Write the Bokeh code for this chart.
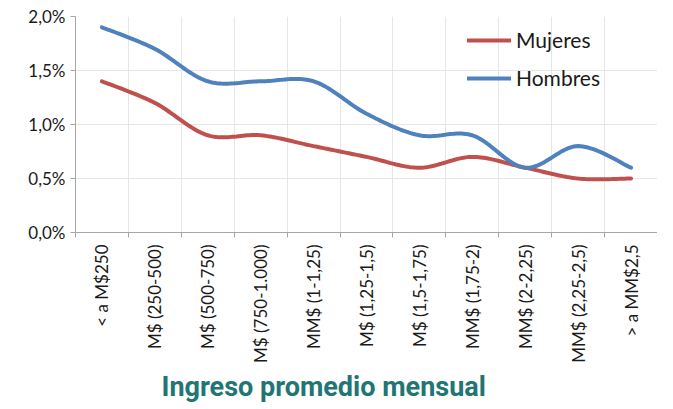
import numpy as np
from bokeh.plotting import figure
from bokeh.models import FixedTicker, Legend, LegendItem, Range1d, Title
from bokeh.embed import file_html
from bokeh.resources import INLINE

categories = ["< a M$250", "M$ (250-500)", "M$ (500-750)", "M$ (750-1.000)",
              "MM$ (1-1,25)", "M$ (1,25-1,5)", "M$ (1,5-1,75)", "MM$ (1,75-2)",
              "MM$ (2-2,25)", "MM$ (2,25-2,5)", "> a MM$2,5"]
mujeres = [1.4, 1.2, 0.9, 0.9, 0.8, 0.7, 0.6, 0.7, 0.6, 0.5, 0.5]
hombres = [1.9, 1.7, 1.4, 1.4, 1.4, 1.1, 0.9, 0.9, 0.6, 0.8, 0.6]
y_ticks = [0.0, 0.5, 1.0, 1.5, 2.0]
y_labels = ["0,0%", "0,5%", "1,0%", "1,5%", "2,0%"]


def smooth(xs, ys, n=24):
    xs = np.asarray(xs, float); ys = np.asarray(ys, float)
    P = np.column_stack([xs, ys])
    out = []
    m = len(P)
    for i in range(m - 1):
        p0 = P[i - 1] if i > 0 else P[i]
        p1 = P[i]; p2 = P[i + 1]
        p3 = P[i + 2] if i + 2 < m else P[i + 1]
        c1 = p1 + (p2 - p0) / 6.0
        c2 = p2 - (p3 - p1) / 6.0
        t = np.linspace(0, 1, n, endpoint=(i == m - 2))[:, None]
        seg = ((1 - t) ** 3) * p1 + 3 * ((1 - t) ** 2) * t * c1 + 3 * (1 - t) * t ** 2 * c2 + t ** 3 * p2
        out.append(seg)
    arr = np.vstack(out)
    return arr[:, 0], arr[:, 1]


ncat = len(categories)
centers = [i + 0.5 for i in range(ncat)]
bounds = list(range(ncat + 1))

p = figure(frame_width=582, frame_height=216, output_backend="svg", toolbar_location=None,
           x_range=Range1d(0, ncat), y_range=Range1d(0, 2.0),
           min_border_left=75, min_border_right=0, min_border_top=16, min_border_bottom=0)
p.outline_line_color = None
p.background_fill_color = "white"

xm, ym = smooth(centers, mujeres)
xh, yh = smooth(centers, hombres)
r_m = p.line(xm, ym, line_color="#C0504D", line_width=4, line_cap="round")
r_h = p.line(xh, yh, line_color="#4F81BD", line_width=4, line_cap="round")

# x axis
p.xaxis.ticker = FixedTicker(ticks=centers, minor_ticks=bounds)
p.xaxis.major_label_overrides = {c: lab for c, lab in zip(centers, categories)}
p.xaxis.major_label_orientation = np.pi / 2
p.xaxis.major_tick_out = 0
p.xaxis.major_tick_in = 0
p.xaxis.minor_tick_out = 5
p.xaxis.minor_tick_in = 0
p.xaxis.minor_tick_line_color = "#a6a6a6"
p.xaxis.axis_line_color = "#a6a6a6"
p.xaxis.major_label_text_font = "Lato"
p.xaxis.major_label_text_font_size = "17px"
p.xaxis.major_label_text_color = "#1a1a1a"
p.xaxis.major_label_standoff = 7

# title below
t = Title(text="Ingreso promedio mensual", align="left", offset=86,
          text_font="Roboto", text_font_style="bold", text_font_size="27px",
          text_color="#217573", standoff=7)
p.add_layout(t, "below")

# y axis
p.yaxis.ticker = FixedTicker(ticks=y_ticks)
p.yaxis.major_label_overrides = {t_: l for t_, l in zip(y_ticks, y_labels)}
p.yaxis.major_tick_out = 5
p.yaxis.major_tick_in = 0
p.yaxis.minor_tick_line_color = None
p.yaxis.major_tick_line_color = "#a6a6a6"
p.yaxis.axis_line_color = "#a6a6a6"
p.yaxis.major_label_text_font = "Lato"
p.yaxis.major_label_text_font_size = "17px"
p.yaxis.major_label_text_color = "#1a1a1a"
p.yaxis.major_label_standoff = 5

p.xgrid.ticker = FixedTicker(ticks=bounds)
p.xgrid.grid_line_color = "#e6e6e6"
p.ygrid.grid_line_color = "#e6e6e6"

legend = Legend(items=[LegendItem(label="Mujeres", renderers=[r_m]),
                       LegendItem(label="Hombres", renderers=[r_h])],
                location=(392, 142))
legend.border_line_color = None
legend.background_fill_alpha = 0
legend.label_text_font = "Lato"
legend.label_text_font_size = "21px"
legend.label_text_color = "#1a1a1a"
legend.glyph_width = 44
legend.glyph_height = 20
legend.label_height = 20
legend.spacing = 13
legend.padding = 10
legend.label_standoff = 5
p.add_layout(legend)

open("out.html", "w").write(file_html(p, INLINE))
